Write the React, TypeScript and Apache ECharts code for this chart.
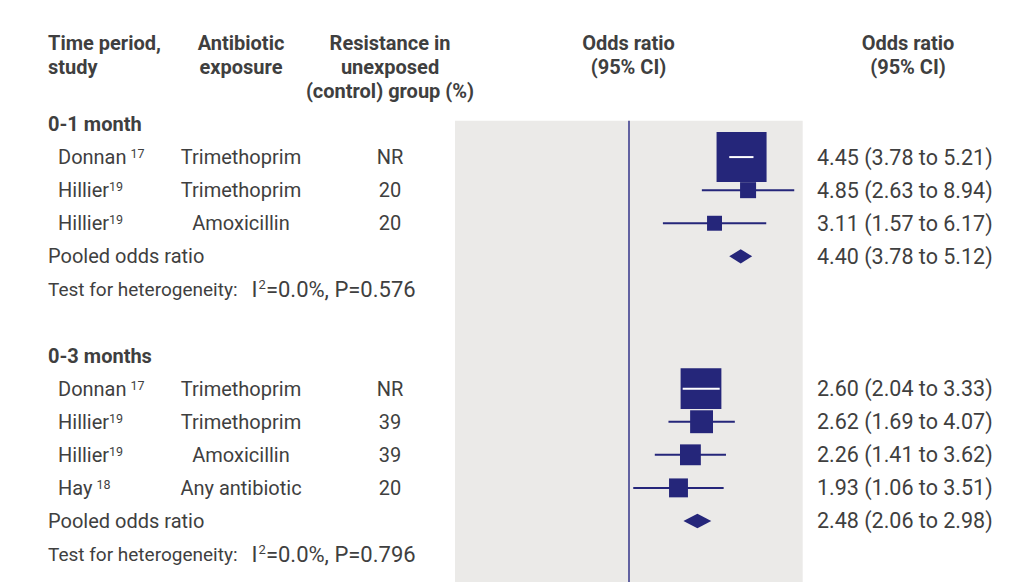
import React, { useEffect, useRef } from 'react';
import * as echarts from 'echarts';

// ---------- data ----------
const groupLabels = ['0-1 month', '0-3 months'];
const studyGroup = [0, 0, 0, 1, 1, 1, 1];
const studyNames = ['Donnan', 'Hillier', 'Hillier', 'Donnan', 'Hillier', 'Hillier', 'Hay'];
const studyRefs = ['17', '19', '19', '17', '19', '19', '18'];
const exposures = ['Trimethoprim', 'Trimethoprim', 'Amoxicillin', 'Trimethoprim', 'Trimethoprim', 'Amoxicillin', 'Any antibiotic'];
const controlResistance = ['NR', '20', '20', 'NR', '39', '39', '20'];
const oddsRatio = [4.45, 4.85, 3.11, 2.6, 2.62, 2.26, 1.93];
const ciLow = [3.78, 2.63, 1.57, 2.04, 1.69, 1.41, 1.06];
const ciHigh = [5.21, 8.94, 6.17, 3.33, 4.07, 3.62, 3.51];
const studyWeight = [83.9, 8.6, 7.5, 55.8, 17.6, 14.6, 12.0];
const pooledOR = [4.4, 2.48];
const pooledLow = [3.78, 2.06];
const pooledHigh = [5.12, 2.98];
const hetI2 = ['0.0', '0.0'];
const hetP = ['0.576', '0.796'];
const columnHeaders = [
  ['Time period,', 'study'],
  ['Antibiotic', 'exposure'],
  ['Resistance in', 'unexposed', '(control) group (%)'],
  ['Odds ratio', '(95% CI)'],
  ['Odds ratio', '(95% CI)'],
];

// ---------- styles ----------
const NAVY = '#25267a';
const TEXT = '#3f3f3f';
const FONT = '20px Roboto';
const NUMFONT = '21.5px Roboto';
const BOLD = 'bold 20px Roboto';

type Row = { kind: 'group' | 'study' | 'pooled' | 'het' | 'blank'; g: number; i?: number };
const rows: Row[] = [];
groupLabels.forEach((_, g) => {
  rows.push({ kind: 'group', g });
  studyGroup.forEach((sg, i) => {
    if (sg === g) rows.push({ kind: 'study', g, i });
  });
  rows.push({ kind: 'pooled', g });
  rows.push({ kind: 'het', g });
  rows.push({ kind: 'blank', g });
});

const fmt = (v: number) => v.toFixed(2);

export default function App() {
  const ref = useRef<HTMLDivElement>(null);
  useEffect(() => {
    if (!ref.current) return;
    const chart = echarts.init(ref.current, null, { renderer: 'svg' });

    const studyData: number[][] = [];
    const pooledData: number[][] = [];
    rows.forEach((r, idx) => {
      if (r.kind === 'study') {
        const i = r.i as number;
        studyData.push([oddsRatio[i], ciLow[i], ciHigh[i], idx, 5.46 * Math.sqrt(studyWeight[i])]);
      } else if (r.kind === 'pooled') {
        pooledData.push([pooledOR[r.g], pooledLow[r.g], pooledHigh[r.g], idx]);
      }
    });

    chart.setOption({
      animation: false,
      grid: {
        left: 455,
        right: 221.3,
        top: 120.7,
        bottom: 0,
        show: true,
        backgroundColor: '#ebeae8',
        borderWidth: 0,
      },
      xAxis: {
        type: 'log',
        logBase: 10,
        min: 0.1,
        max: 10,
        show: false,
      },
      yAxis: {
        type: 'value',
        inverse: true,
        min: -0.1,
        max: 13.845,
        show: false,
      },
      series: [
        {
          type: 'custom',
          name: 'studies',
          data: studyData,
          encode: { x: [1, 2], y: 3 },
          renderItem: (params: any, api: any) => {
            const y = api.coord([1, api.value(3)])[1];
            const xM = api.coord([api.value(0), 0])[0];
            const xLo = api.coord([api.value(1), 0])[0];
            const xHi = api.coord([api.value(2), 0])[0];
            const s = api.value(4);
            const children: any[] = [
              { type: 'line', shape: { x1: xLo, y1: y, x2: xHi, y2: y }, style: { stroke: NAVY, lineWidth: 2 } },
              { type: 'rect', shape: { x: xM - s / 2, y: y - s / 2, width: s, height: s }, style: { fill: NAVY } },
            ];
            if (xLo >= xM - s / 2 && xHi <= xM + s / 2) {
              children.push({ type: 'line', shape: { x1: xLo, y1: y, x2: xHi, y2: y }, style: { stroke: '#ffffff', lineWidth: 2 } });
            }
            return { type: 'group', children };
          },
          markLine: {
            silent: true,
            symbol: ['none', 'none'],
            label: { show: false },
            lineStyle: { color: '#34348a', width: 1.5, type: 'solid' },
            data: [{ xAxis: 1 }],
          },
        },
        {
          type: 'custom',
          name: 'pooled',
          data: pooledData,
          encode: { x: [1, 2], y: 3 },
          renderItem: (params: any, api: any) => {
            const y = api.coord([1, api.value(3)])[1];
            const xM = api.coord([api.value(0), 0])[0];
            const xLo = api.coord([api.value(1), 0])[0];
            const xHi = api.coord([api.value(2), 0])[0];
            const h = 7.2;
            return {
              type: 'polygon',
              shape: { points: [[xLo, y], [xM, y - h], [xHi, y], [xM, y + h]] },
              style: { fill: NAVY },
            };
          },
        },
      ],
    });

    const yPx = (r: number) => chart.convertToPixel({ yAxisIndex: 0 }, r) as number;
    const txt = (x: number, y: number, text: string, font: string, align = 'left', rich?: any) => ({
      type: 'text',
      x,
      y,
      silent: true,
      style: {
        text,
        font,
        fill: TEXT,
        align,
        textAlign: align,
        verticalAlign: 'middle',
        textVerticalAlign: 'middle',
        ...(rich ? { rich } : {}),
      },
    });
    const supRich = {
      a: { font: FONT, fill: TEXT },
      w: { font: '19px Roboto', fill: TEXT },
      n: { font: '22px Roboto', fill: TEXT },
      s: { font: '12.5px Roboto', fill: TEXT, verticalAlign: 'top' },
      sp: { font: '12.5px Roboto', fill: TEXT, verticalAlign: 'top', padding: [0, 0, 0, 4] },
      s2: { font: '13px Roboto', fill: TEXT, verticalAlign: 'top', padding: [0, 0, 0, 1] },
    };

    const elements: any[] = [];
    const headerX = [48, 241, 390, 628.5, 908];
    const headerAlign = ['left', 'center', 'center', 'center', 'center'];
    columnHeaders.forEach((lines, c) => {
      lines.forEach((line, k) => {
        elements.push(txt(headerX[c], 43 + 24 * k, line, BOLD, headerAlign[c]));
      });
    });

    rows.forEach((r, idx) => {
      const y = yPx(idx);
      if (r.kind === 'group') {
        elements.push(txt(48, y, groupLabels[r.g], BOLD));
      } else if (r.kind === 'study') {
        const i = r.i as number;
        const supStyle = studyNames[i] === 'Hillier' ? 's' : 'sp';
        elements.push(txt(58, y, `{a|${studyNames[i]}}{${supStyle}|${studyRefs[i]}}`, FONT, 'left', supRich));
        elements.push(txt(241, y, exposures[i], FONT, 'center'));
        elements.push(txt(390, y, controlResistance[i], FONT, 'center'));
        elements.push(txt(817, y, `${fmt(oddsRatio[i])} (${fmt(ciLow[i])} to ${fmt(ciHigh[i])})`, NUMFONT));
      } else if (r.kind === 'pooled') {
        elements.push(txt(48, y, 'Pooled odds ratio', FONT));
        elements.push(txt(817, y, `${fmt(pooledOR[r.g])} (${fmt(pooledLow[r.g])} to ${fmt(pooledHigh[r.g])})`, NUMFONT));
      } else if (r.kind === 'het') {
        elements.push(
          txt(48, y, `{w|Test for heterogeneity:   }{n|I}{s2|2}{n|=${hetI2[r.g]}%, P=${hetP[r.g]}}`, FONT, 'left', supRich)
        );
      }
    });

    chart.setOption({ graphic: { elements } });

    return () => {
      chart.dispose();
    };
  }, []);

  return (
    <div
      ref={ref}
      style={{ position: 'fixed', left: 0, top: 0, width: 1024, height: 582, background: '#ffffff' }}
    />
  );
}
